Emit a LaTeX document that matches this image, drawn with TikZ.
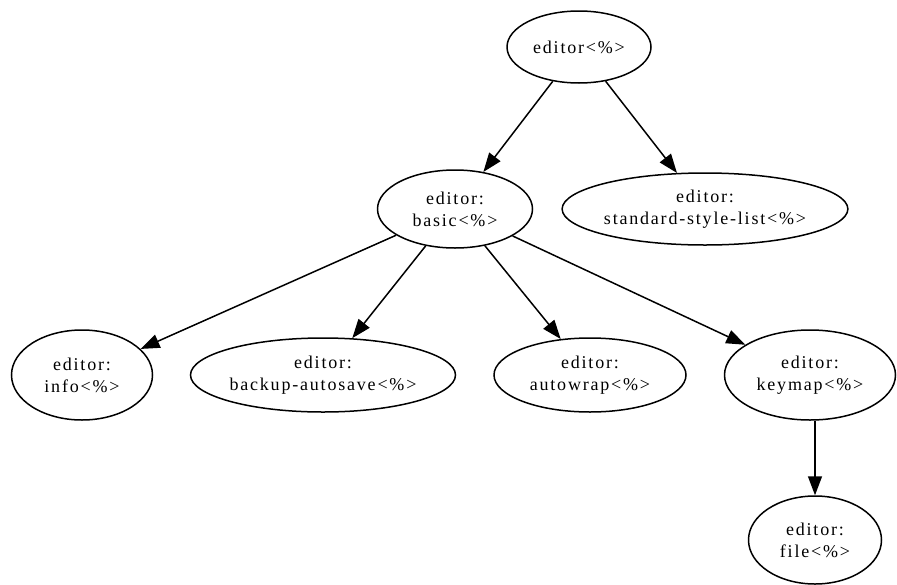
\documentclass[tikz,border=0pt]{standalone}
\usepackage{fontspec}
\setmainfont[LetterSpace=10]{Liberation Serif}
\usepackage{tikz}
\usetikzlibrary{shapes.geometric,arrows.meta}

\begin{document}
\begin{tikzpicture}[x=1pt,y=-1pt,
    mod/.style={draw,ellipse,line width=1.5pt,inner sep=0pt,align=center,
        font=\fontsize{18}{22}\selectfont},
    dep/.style={line width=1.5pt,-{Triangle[length=19pt,width=14pt]}}]
    \useasboundingbox (0,0) rectangle (897,584);
    % top
    \node[mod,minimum width=144pt,minimum height=72pt] (root) at (579,47) {editor<\%>};
    % second row
    \node[mod,minimum width=155pt,minimum height=78pt] (basic) at (455,209) {editor:\\basic<\%>};
    \node[mod,minimum width=268pt,minimum height=72pt] (stdlist) at (705,209) {editor:\\standard-style-list<\%>};
    % third row
    \node[mod,minimum width=141pt,minimum height=90pt] (info) at (82,375) {editor:\\info<\%>};
    \node[mod,minimum width=265pt,minimum height=74pt] (backup) at (323,375) {editor:\\backup-autosave<\%>};
    \node[mod,minimum width=192pt,minimum height=74pt] (autowrap) at (590,375) {editor:\\autowrap<\%>};
    \node[mod,minimum width=171pt,minimum height=90pt] (keymap) at (810,375) {editor:\\keymap<\%>};
    % bottom
    \node[mod,minimum width=133pt,minimum height=88pt] (file) at (815,540) {editor:\\file<\%>};

    \draw[dep] (root) -- (basic);
    \draw[dep] (root) -- (stdlist);
    \draw[dep] (basic) -- (info);
    \draw[dep] (basic) -- (backup);
    \draw[dep] (basic) -- (autowrap);
    \draw[dep] (basic) -- (keymap);
    \draw[dep] (keymap.south -| file) -- (file);
\end{tikzpicture}
\end{document}
